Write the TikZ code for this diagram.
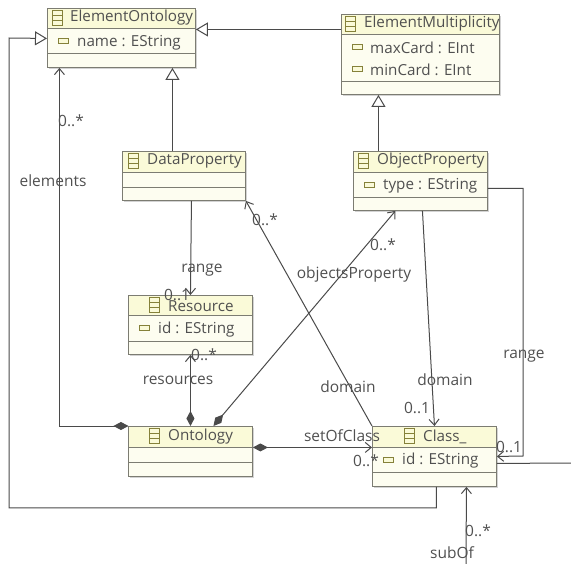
\documentclass[tikz,border=0pt]{standalone}
\usepackage{fontspec}
\setmainfont{Open Sans}
\usetikzlibrary{arrows.meta}
\usetikzlibrary{shadows}

\definecolor{boxfill}{HTML}{FDFDF0}
\definecolor{headfill}{HTML}{FAFAD8}
\definecolor{boxline}{HTML}{7C7C72}
\definecolor{iconline}{HTML}{85813A}
\definecolor{wire}{HTML}{4A4A4A}
\definecolor{inktext}{HTML}{505050}

\tikzset{
  classbox/.style={draw=boxline, fill=boxfill, line width=0.9pt, inner sep=0, anchor=north west,
    drop shadow={shadow xshift=1.5pt, shadow yshift=-1.5pt, opacity=0.35, fill=gray}},
  headtext/.style={anchor=west, inner sep=0, font=\fontsize{15.2}{17}\selectfont, text=inktext},
  attrtext/.style={anchor=west, inner sep=0, font=\fontsize{15.2}{17}\selectfont, text=inktext},
  wirelabel/.style={inner sep=0, font=\fontsize{15.5}{17}\selectfont, text=inktext},
  wireline/.style={draw=wire, line width=1pt},
  inherits/.style={wireline, -{Triangle[open, length=12pt, width=14pt, fill=white]}},
  refers/.style={wireline, -{Straight Barb[length=6pt, width=10pt]}},
  contains/.style={wireline, {Diamond[length=15pt, width=8pt]}-{Straight Barb[length=6pt, width=10pt]}},
}

% name, left, top, width, height, header rule, attribute rule
\newcommand{\classbox}[7]{
  \node[classbox, minimum width=#4pt, minimum height=#5pt] (#1) at (#2,#3) {};
  \fill[headfill] ([shift={(0.5pt,-0.5pt)}]#1.north west) rectangle (#2+#4-0.5,#6);
  \draw[boxline, line width=0.8pt] (#2,#6) -- (#2+#4,#6);
  \draw[boxline, line width=0.8pt] (#2,#7) -- (#2+#4,#7);
  \draw[boxline, line width=0.9pt] (#1.north west) rectangle (#1.south east);
}
\newcommand{\classicon}[2]{
  \draw[iconline, line width=0.8pt] (#1,#2-7.5) rectangle (#1+10,#2+7.5);
  \draw[iconline, line width=0.8pt] (#1,#2-2.5) -- (#1+10,#2-2.5);
  \draw[iconline, line width=0.8pt] (#1,#2+2.5) -- (#1+10,#2+2.5);
}
\newcommand{\attricon}[2]{
  \draw[iconline, fill=headfill, line width=0.8pt] (#1,#2-2.5) rectangle (#1+10,#2+2.5);
}

\begin{document}
\begin{tikzpicture}[x=1pt, y=-1pt]
\useasboundingbox (0,0) rectangle (571,564);

\coordinate (selfOut) at (571,463);
\coordinate (selfIn) at (466,564);

\classbox{elementOntology}{47}{8}{148}{59}{28}{53}
\classbox{elementMultiplicity}{341}{14}{158}{80}{34}{81}
\classbox{dataProperty}{122}{151}{123}{49}{172}{187}
\classbox{objectProperty}{353}{151}{134}{59}{172}{197}
\classbox{resource}{128}{295}{124}{59}{315}{341}
\classbox{ontology}{128}{426}{124}{50}{447}{462}
\classbox{class}{372}{426}{124}{60}{447}{472}

\classicon{52}{18}
\classicon{345}{24}
\classicon{128}{161}
\classicon{358}{161}
\classicon{149}{305}
\classicon{149}{436}
\classicon{404}{436}
\attricon{58}{41}
\attricon{352}{47}
\attricon{352}{69}
\attricon{364}{185}
\attricon{139}{328}
\attricon{383}{460}

% inheritance
\draw[inherits] ([yshift=25pt]elementMultiplicity.west) -- ([yshift=8.5pt]elementOntology.east);
\draw[inherits] ([xshift=-11.5pt]dataProperty.north) -- ([xshift=51pt]elementOntology.south);
\draw[inherits] ([xshift=-42pt]objectProperty.north) -- ([xshift=-42pt]elementMultiplicity.south);
\draw[inherits] ([xshift=2pt]class.south) -- ++(0,21) -| (9,38) -- ([yshift=-0.5pt]elementOntology.west);

% references
\draw[contains] ([xshift=-62pt]ontology.north) -| ([xshift=-62pt]elementOntology.south);
\draw[refers] ([xshift=7.5pt]dataProperty.south) -- (resource.north);
\draw[contains] (ontology.north) -- (resource.south);
\draw[contains] ([xshift=23pt]ontology.north) -- ([xshift=-25pt]objectProperty.south);
\draw[contains] ([yshift=4pt]ontology.east) -- ([yshift=9pt]class.west);
\draw[refers] (class.north west) -- (dataProperty.south east);
\draw[refers] ([xshift=2pt]objectProperty.south) -- (class.north);
\draw[refers] ([yshift=-7.5pt]objectProperty.east) -| (523,456) -- (class.east);
\draw[wireline] ([yshift=-7pt]class.east) -- (selfOut);
\draw[refers] (selfIn) -- ([xshift=32pt]class.south);

\node[headtext] (elementOntologyName) at (70,18) {ElementOntology};
\node[headtext] (elementMultiplicityName) at (364,24) {ElementMultiplicity};
\node[headtext] (dataPropertyName) at (147,161) {DataProperty};
\node[headtext] (objectPropertyName) at (377,161) {ObjectProperty};
\node[headtext] (resourceName) at (168,306) {Resource};
\node[headtext] (ontologyName) at (168,437) {Ontology};
\node[headtext] (className) at (423,437) {Class\_};
\node[attrtext] (nameAttr) at (77,43) {name : EString};
\node[attrtext] (maxCardAttr) at (370,48) {maxCard : EInt};
\node[attrtext] (minCardAttr) at (370,70) {minCard : EInt};
\node[attrtext] (typeAttr) at (383,186) {type : EString};
\node[attrtext] (idAttr) at (158,330) {id : EString};
\node[attrtext] (classIdAttr) at (402,461) {id : EString};

\node[wirelabel] (elementsCard) at (71,121) {0..*};
\node[wirelabel] (elementsLabel) at (53,181) {elements};
\node[wirelabel] (rangeLabel) at (202,270) {range};
\node[wirelabel] (rangeCard) at (177,295) {0..1};
\node[wirelabel] (resourcesCard) at (204,355) {0..*};
\node[wirelabel] (resourcesLabel) at (178,380) {resources};
\node[wirelabel] (propertyCard) at (383,245) {0..*};
\node[wirelabel] (propertyLabel) at (354,274) {objectsProperty};
\node[wirelabel] (dataCard) at (265,220) {0..*};
\node[wirelabel] (dataDomain) at (348,387) {domain};
\node[wirelabel] (objectDomain) at (445,380) {domain};
\node[wirelabel] (objectCard) at (417,408) {0..1};
\node[wirelabel] (objectRange) at (524,356) {range};
\node[wirelabel] (objectRangeCard) at (509,447) {0..1};
\node[wirelabel] (setLabel) at (342,436) {setOfClass};
\node[wirelabel] (setCard) at (366,461) {0..*};
\node[wirelabel] (subCard) at (478,531) {0..*};
\node[wirelabel] (subLabel) at (452,553) {subOf};
\end{tikzpicture}
\end{document}
